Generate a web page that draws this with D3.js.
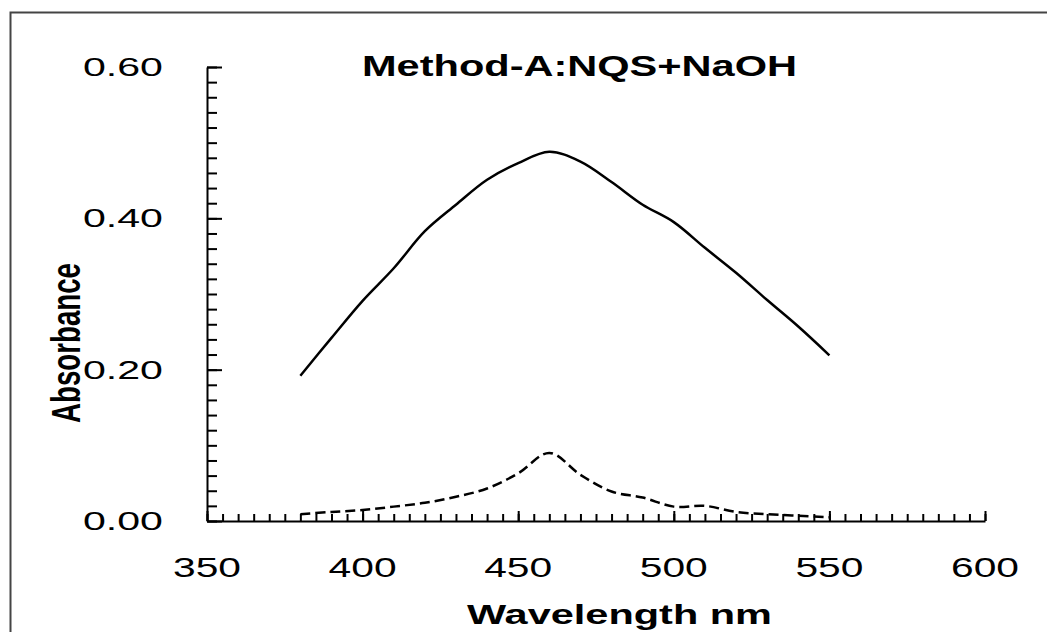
<!DOCTYPE html>
<html>
<head>
<meta charset="utf-8">
<script src="https://cdn.jsdelivr.net/npm/d3@7"></script>
<style>
  body { margin: 0; background: #fff; }
  svg { display: block; font-family: "Liberation Sans", Arial, sans-serif; }
</style>
</head>
<body>
<svg id="chart" width="1047" height="632"></svg>
<script>
// Absorption spectra
const wavelength = [380, 390, 400, 410, 420, 430, 440, 450, 460, 470, 480, 490, 500, 510, 520, 530, 540, 550];
const complexAbs = [0.192, 0.242, 0.291, 0.334, 0.383, 0.418, 0.451, 0.473, 0.488, 0.475, 0.448, 0.418, 0.395, 0.361, 0.328, 0.292, 0.257, 0.219];
const blankAbs   = [0.009, 0.012, 0.0145, 0.019, 0.024, 0.032, 0.043, 0.063, 0.090, 0.061, 0.039, 0.031, 0.019, 0.020, 0.012, 0.009, 0.007, 0.005];

const xMajor = [350, 400, 450, 500, 550, 600];
const yMajor = [0, 0.2, 0.4, 0.6];

const svg = d3.select("#chart");

// outer frame (runs off the right and bottom edge)
svg.append("rect")
  .attr("x", 10.5).attr("y", 12.5)
  .attr("width", 1060).attr("height", 640)
  .attr("fill", "none")
  .attr("stroke", "#444")
  .attr("stroke-width", 2);

const x = d3.scaleLinear().domain([350, 600]).range([207, 985]);
const y = d3.scaleLinear().domain([0, 0.6]).range([521, 67]);

// minor + major ticks, pointing inward
const axisStyle = g => {
  g.selectAll("path, line").attr("stroke", "#000").attr("stroke-width", 2);
  g.selectAll("text").remove();
};

svg.append("g")
  .attr("transform", `translate(0,${y(0)})`)
  .call(d3.axisBottom(x).tickValues(d3.range(350, 601, 5)).tickSizeInner(-7).tickSizeOuter(0))
  .call(axisStyle);
svg.append("g")
  .attr("transform", `translate(0,${y(0)})`)
  .call(d3.axisBottom(x).tickValues(xMajor).tickSizeInner(-10).tickSizeOuter(0))
  .call(axisStyle)
  .select(".domain").remove();

svg.append("g")
  .attr("transform", `translate(${x(350)},0)`)
  .call(d3.axisLeft(y).tickValues(d3.range(0, 0.601, 0.02)).tickSizeInner(-10).tickSizeOuter(0))
  .call(axisStyle);
svg.append("g")
  .attr("transform", `translate(${x(350)},0)`)
  .call(d3.axisLeft(y).tickValues(yMajor).tickSizeInner(-15).tickSizeOuter(0))
  .call(axisStyle)
  .select(".domain").remove();

// tick labels (the original lettering is stretched wide)
svg.append("g").selectAll("text")
  .data(xMajor)
  .enter().append("text")
  .attr("x", d => x(d) - 34)
  .attr("y", 577)
  .attr("font-size", 27)
  .attr("textLength", 68)
  .attr("lengthAdjust", "spacingAndGlyphs")
  .text(d => d);

svg.append("g").selectAll("text")
  .data(yMajor)
  .enter().append("text")
  .attr("x", 83)
  .attr("y", d => y(d) + 9)
  .attr("font-size", 25)
  .attr("textLength", 80)
  .attr("lengthAdjust", "spacingAndGlyphs")
  .text(d => d.toFixed(2));

// curves
const line = vals => d3.line()
  .x((d, i) => x(wavelength[i]))
  .y(d => y(d))
  .curve(d3.curveCatmullRom)(vals);

svg.append("path")
  .attr("d", line(complexAbs))
  .attr("fill", "none")
  .attr("stroke", "#000")
  .attr("stroke-width", 2.5);

svg.append("path")
  .attr("d", line(blankAbs))
  .attr("fill", "none")
  .attr("stroke", "#000")
  .attr("stroke-width", 2.5)
  .attr("stroke-dasharray", "10,5");

// title and axis titles
svg.append("text")
  .attr("x", 362).attr("y", 76)
  .attr("font-size", 29)
  .attr("font-weight", "bold")
  .attr("textLength", 435)
  .attr("lengthAdjust", "spacingAndGlyphs")
  .text("Method-A:NQS+NaOH");

svg.append("text")
  .attr("x", 467).attr("y", 624)
  .attr("font-size", 27)
  .attr("font-weight", "bold")
  .attr("textLength", 305)
  .attr("lengthAdjust", "spacingAndGlyphs")
  .text("Wavelength nm");

svg.append("text")
  .attr("transform", "translate(80,423) rotate(-90)")
  .attr("font-size", 40)
  .attr("font-weight", "bold")
  .attr("textLength", 160)
  .attr("lengthAdjust", "spacingAndGlyphs")
  .text("Absorbance");
</script>
</body>
</html>
